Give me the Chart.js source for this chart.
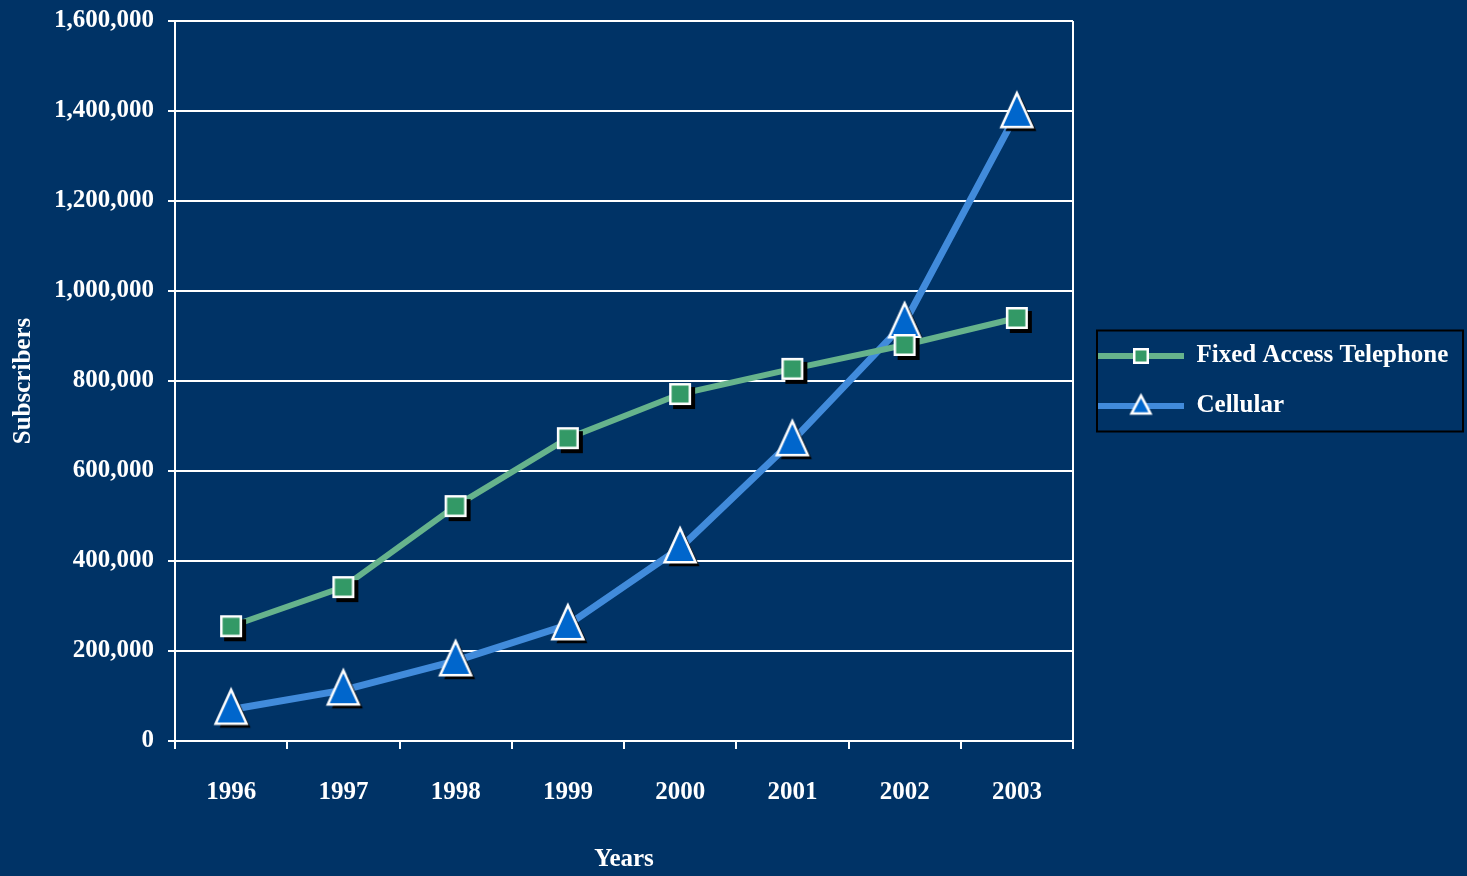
<!DOCTYPE html>
<html>
<head>
<meta charset="utf-8">
<script src="https://cdn.jsdelivr.net/npm/chart.js@4"></script>
<style>
  html, body { margin: 0; padding: 0; background: #003366; }
  #wrap { width: 1467px; height: 876px; position: relative; }
</style>
</head>
<body>
<div id="wrap"><canvas id="chart"></canvas></div>
<script>
var years = ['1996', '1997', '1998', '1999', '2000', '2001', '2002', '2003'];
var fixedAccess = [255000, 342000, 522000, 673000, 771000, 827000, 880000, 940000];
var cellular = [70000, 113000, 178000, 258000, 429000, 667000, 929000, 1396000];
var seriesNames = ['Fixed Access Telephone', 'Cellular'];

var greenLine = '#66b38c', greenFill = '#339966';
var blueLine = '#418bdb', blueFill = '#0066cc';

function squareMarker(size, shadow) {
    var c = document.createElement('canvas');
    var n = size + 18;
    c.width = n; c.height = n;
    var g = c.getContext('2d');
    var x0 = (n - size) / 2;
    if (shadow) {
        g.fillStyle = '#000';
        g.fillRect(x0 + 4, x0 + 4, size, size);
    }
    g.fillStyle = '#fff';
    g.fillRect(x0, x0, size, size);
    g.fillStyle = greenFill;
    g.fillRect(x0 + 2.5, x0 + 2.5, size - 5, size - 5);
    return c;
}

function trianglePath(g, cx, cy, w, h) {
    g.beginPath();
    g.moveTo(cx, cy - h * 0.58);
    g.lineTo(cx + w / 2, cy + h * 0.42);
    g.lineTo(cx - w / 2, cy + h * 0.42);
    g.closePath();
}

function triangleMarker(w, h, shadow) {
    var c = document.createElement('canvas');
    var n = Math.max(w, h) + 20;
    c.width = n; c.height = n;
    var g = c.getContext('2d');
    var cx = n / 2, cy = n / 2;
    if (shadow) {
        g.fillStyle = '#000';
        trianglePath(g, cx + 4, cy + 4, w, h);
        g.fill();
    }
    trianglePath(g, cx, cy, w, h);
    g.fillStyle = blueFill;
    g.fill();
    g.lineWidth = 2.5;
    g.strokeStyle = '#fff';
    g.stroke();
    return c;
}

function legendSymbol(color, marker) {
    var c = document.createElement('canvas');
    c.width = 86; c.height = 30;
    var g = c.getContext('2d');
    g.strokeStyle = color;
    g.lineWidth = 6;
    g.beginPath();
    g.moveTo(0, 15); g.lineTo(86, 15);
    g.stroke();
    g.drawImage(marker, 43 - marker.width / 2, 15 - marker.height / 2);
    return c;
}

var sqPoint = squareMarker(22, true);
var triPoint = triangleMarker(31, 34, true);
var sqLegend = legendSymbol(greenLine, squareMarker(16, false));
var triLegend = legendSymbol(blueLine, triangleMarker(19, 18, false));

// legend on the right is capped at a quarter of the width by default, widen it
var legendWidth = {
    id: 'legendWidth',
    beforeLayout: function (chart) {
        var lg = chart.legend;
        if (lg && !lg._widened) {
            var fit = lg.fit;
            lg.fit = function () {
                fit.call(this);
                this.width = 394;
            };
            lg._widened = true;
        }
    }
};

var frame = {
    id: 'frame',
    afterDraw: function (chart) {
        var ctx = chart.ctx, a = chart.chartArea;
        ctx.save();
        ctx.strokeStyle = '#fff';
        ctx.lineWidth = 2;
        ctx.beginPath();
        ctx.moveTo(a.right, a.top);
        ctx.lineTo(a.right, a.bottom);
        ctx.stroke();
        var hb = chart.legend.legendHitBoxes;
        if (hb && hb.length) {
            var l = Infinity, t = Infinity, b = -Infinity;
            hb.forEach(function (h) {
                l = Math.min(l, h.left); t = Math.min(t, h.top);
                b = Math.max(b, h.top + h.height);
            });
            ctx.strokeStyle = '#000';
            ctx.lineWidth = 2;
            ctx.strokeRect(l - 1, t - 13, chart.width - 4 - (l - 1), b - t + 26);
        }
        ctx.restore();
    }
};

Chart.defaults.font.family = '"Liberation Serif", "Times New Roman", serif';
Chart.defaults.font.weight = 'bold';
Chart.defaults.font.size = 25;
Chart.defaults.color = '#fff';

var config = {
    type: 'line',
    data: {
        labels: years,
        datasets: [{
            label: seriesNames[0],
            data: fixedAccess,
            borderColor: greenLine,
            borderWidth: 6,
            pointStyle: sqPoint,
            legendStyle: sqLegend,
            tension: 0
        }, {
            label: seriesNames[1],
            data: cellular,
            borderColor: blueLine,
            borderWidth: 7,
            pointStyle: triPoint,
            legendStyle: triLegend,
            tension: 0
        }]
    },
    options: {
        responsive: true,
        maintainAspectRatio: false,
        animation: false,
        events: [],
        layout: { padding: { top: 21, right: 0, bottom: 0, left: 0 } },
        plugins: {
            tooltip: { enabled: false },
            legend: {
                position: 'right',
                fullSize: false,
                align: 'center',
                labels: {
                    usePointStyle: true,
                    pointStyleWidth: 86,
                    padding: 25,
                    color: '#fff',
                    font: { size: 25, weight: 'bold' },
                    generateLabels: function (chart) {
                        return chart.data.datasets.map(function (ds, i) {
                            return {
                                text: ds.label,
                                fontColor: '#fff',
                                pointStyle: ds.legendStyle,
                                datasetIndex: i,
                                hidden: false,
                                lineWidth: 0
                            };
                        });
                    }
                }
            }
        },
        scales: {
            x: {
                offset: true,
                grid: {
                    offset: true,
                    drawOnChartArea: false,
                    color: '#fff',
                    lineWidth: 2,
                    tickLength: 8
                },
                border: { color: '#fff', width: 2 },
                ticks: { padding: 29, color: '#fff', maxRotation: 0 },
                title: {
                    display: true,
                    text: 'Years',
                    color: '#fff',
                    padding: { top: 4, bottom: 1 }
                },
                afterFit: function (s) {
                    s.height = 135;
                    s.paddingLeft = 0; s.paddingRight = 0;
                }
            },
            y: {
                min: 0,
                max: 1600000,
                ticks: {
                    stepSize: 200000,
                    padding: 14,
                    color: '#fff',
                    callback: function (v) { return v.toLocaleString('en-US'); }
                },
                grid: { color: '#fff', lineWidth: 2, tickLength: 7 },
                border: { color: '#fff', width: 2 },
                title: {
                    display: true,
                    text: 'Subscribers',
                    color: '#fff',
                    padding: { top: 9, bottom: 4 }
                },
                afterFit: function (s) {
                    s.width = 175;
                    s.paddingTop = 0; s.paddingBottom = 0;
                }
            }
        }
    },
    plugins: [legendWidth, frame]
};

var ctx = document.getElementById('chart').getContext('2d');
new Chart(ctx, config);
</script>
</body>
</html>
